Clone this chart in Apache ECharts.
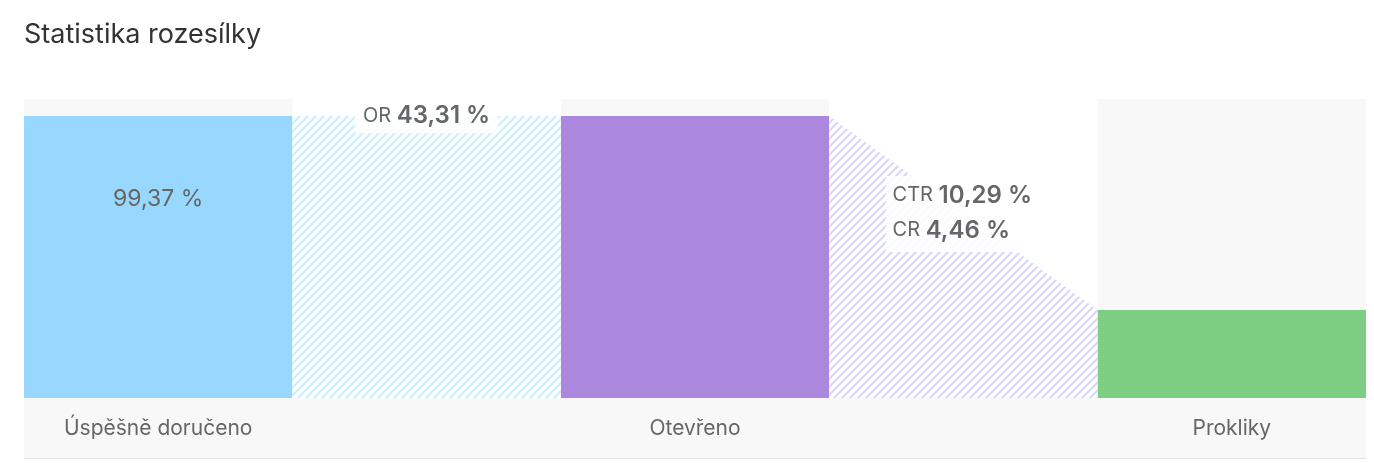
<!DOCTYPE html>
<html><head><meta charset="utf-8">
<script src="https://cdn.jsdelivr.net/npm/echarts@6/dist/echarts.min.js"></script>
<style>html,body{margin:0;padding:0;background:#fff}#c{width:1374px;height:463px}</style>
</head><body><div id="c"></div>
<script>
// ---- data ----
const categories = ['Úspěšně doručeno', 'Otevřeno', 'Prokliky'];
const barValues = [100, 100, 31.2];
const deliveredRate = 99.37;
const rateNames = ['OR', 'CTR', 'CR'];
const rateValues = [43.31, 10.29, 4.46];
const yMax = 106;

// ---- style ----
const barColors = ['#98d8fe', '#ab87dd', '#7dce83'];
const hatchColors = ['#cdedfd', '#d9d7fa'];
const FONT = 'Inter, "Noto Sans", sans-serif';

function fmt(v){ return v.toFixed(2).replace('.', ',') + ' %'; }

function hatch(color){
  const s = 8;
  const c = document.createElement('canvas');
  c.width = s; c.height = s;
  const g = c.getContext('2d');
  g.fillStyle = '#fff'; g.fillRect(0,0,s,s);
  g.strokeStyle = color; g.lineWidth = 2.2;
  g.beginPath();
  g.moveTo(-2, s+2); g.lineTo(s+2, -2);
  g.moveTo(-2, 2); g.lineTo(2, -2);
  g.moveTo(s-2, s+2); g.lineTo(s+2, s-2);
  g.stroke();
  return c;
}
const patterns = hatchColors.map(hatch);

// 5 slots: bar, gap, bar, gap, bar
const xCats = [];
const barData = [];
categories.forEach((c, i) => {
  xCats.push(c);
  const item = { value: barValues[i], itemStyle: { color: barColors[i] } };
  if (i === 0) {
    item.label = {
      show: true, position: 'insideTop', distance: 72,
      formatter: fmt(deliveredRate), fontSize: 23, color: '#666', fontFamily: FONT
    };
  }
  barData.push(item);
  if (i < categories.length - 1) { xCats.push(''); barData.push('-'); }
});
const bgData = categories.map((c, i) => [i * 2]);
const gapData = categories.slice(0, -1).map((c, i) => [i * 2 + 1, i]);

const rich = {
  n: { fontSize: 20, fill: '#666', fontFamily: FONT, lineHeight: 35 },
  v: { fontSize: 24, fill: '#666', fontWeight: 600, fontFamily: FONT, lineHeight: 35 }
};

const chart = echarts.init(document.getElementById('c'), null, { renderer: 'canvas' });
chart.setOption({
  animation: false,
  backgroundColor: '#fff',
  title: {
    text: 'Statistika rozesílky', left: 24, top: 21, padding: 0,
    textStyle: { fontSize: 27, fontWeight: 'normal', color: '#333', fontFamily: FONT }
  },
  graphic: [
    { type: 'rect', z: -10, shape: { x: 24, y: 398, width: 1342, height: 60 }, style: { fill: '#f8f8f8' } },
    { type: 'rect', z: -10, shape: { x: 24, y: 458, width: 1342, height: 1 }, style: { fill: '#e2e2e2' } }
  ],
  grid: { left: 24, right: 8, top: 99, bottom: 65 },
  xAxis: {
    type: 'category', data: xCats,
    axisLine: { show: false }, axisTick: { show: false },
    axisLabel: { interval: 0, fontSize: 21, color: '#666', margin: 20, fontFamily: FONT }
  },
  yAxis: { type: 'value', min: 0, max: yMax, show: false, splitLine: { show: false } },
  series: [
    {
      type: 'custom', z: 1, silent: true, data: bgData,
      renderItem: function (params, api) {
        const i = api.value(0);
        const p0 = api.coord([i, yMax]);
        const p1 = api.coord([i, 0]);
        const bw = api.size([1, 0])[0];
        return { type: 'rect', shape: { x: p0[0] - bw / 2, y: p0[1], width: bw, height: p1[1] - p0[1] }, style: { fill: '#f8f8f8' } };
      }
    },
    {
      type: 'bar', z: 2, data: barData, barWidth: '100%', silent: true
    },
    {
      type: 'custom', z: 3, silent: true, data: gapData,
      renderItem: function (params, api) {
        const i = api.value(0);
        const g = api.value(1);
        const bw = api.size([1, 0])[0];
        const c = api.coord([i, 0]);
        const left = c[0] - bw / 2, right = c[0] + bw / 2;
        const yA = api.coord([i, barValues[g]])[1];
        const yB = api.coord([i, barValues[g + 1]])[1];
        const base = c[1];
        const children = [{
          type: 'polygon',
          shape: { points: [[left, yA], [right, yB], [right, base], [left, base]] },
          style: { fill: { image: patterns[g], repeat: 'repeat' } }
        }];
        if (g === 0) {
          children.push({
            type: 'text', z2: 10,
            style: {
              x: c[0], y: yA, align: 'center', verticalAlign: 'middle',
              text: '{n|' + rateNames[0] + ' }{v|' + fmt(rateValues[0]) + '}',
              rich: rich, backgroundColor: 'rgba(255,255,255,0.88)', padding: [0, 8]
            }
          });
        } else {
          children.push({
            type: 'text', z2: 10,
            style: {
              x: left + bw * 0.21, y: yA + 60, align: 'left', verticalAlign: 'top',
              text: '{n|' + rateNames[1] + ' }{v|' + fmt(rateValues[1]) + '}\n{n|' + rateNames[2] + ' }{v|' + fmt(rateValues[2]) + '}',
              rich: rich, backgroundColor: 'rgba(255,255,255,0.88)', padding: [2, 7, 4, 7]
            }
          });
        }
        return { type: 'group', children: children };
      }
    }
  ]
});
</script>
</body></html>
